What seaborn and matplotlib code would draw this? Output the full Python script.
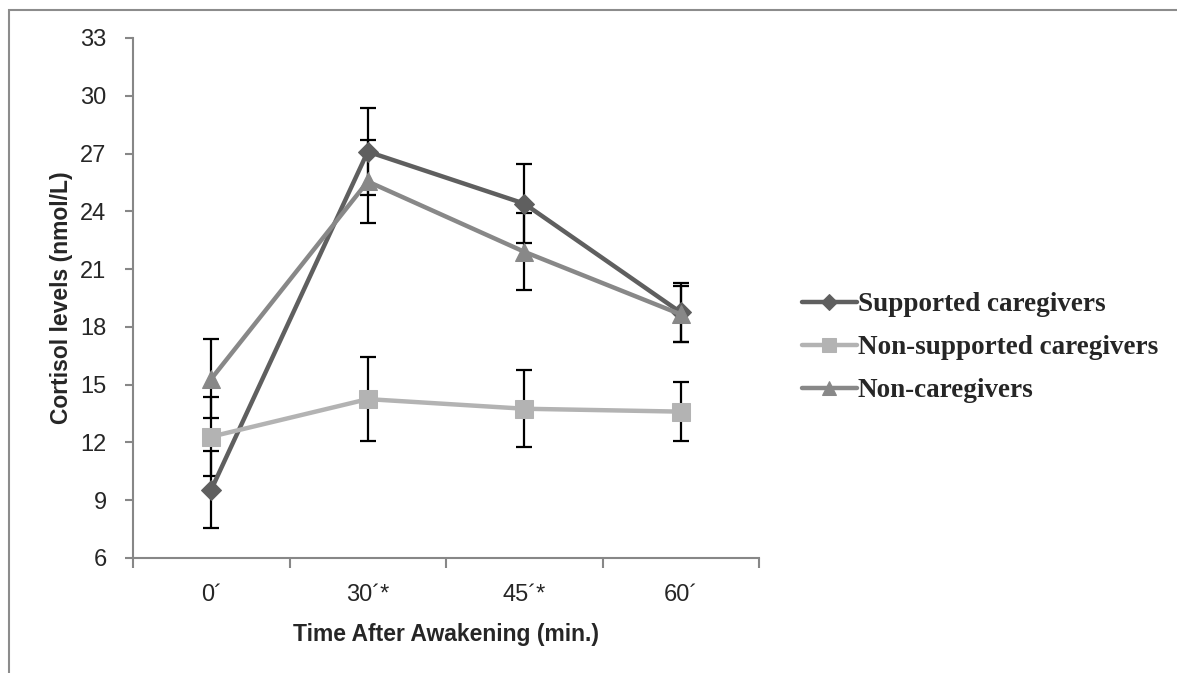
import matplotlib
matplotlib.use("Agg")
import matplotlib.pyplot as plt
import seaborn as sns
import pandas as pd
import numpy as np
from matplotlib.patches import Rectangle

categories = ["0´", "30´*", "45´*", "60´"]
series_names = ["Supported caregivers", "Non-supported caregivers", "Non-caregivers"]
supported = [9.55, 27.1, 24.4, 18.75]
supported_err = [2.0, 2.25, 2.05, 1.55]
non_supported = [12.3, 14.25, 13.75, 13.6]
non_supported_err = [2.05, 2.2, 2.0, 1.55]
non_caregivers = [15.3, 25.55, 21.9, 18.65]
non_caregivers_err = [2.05, 2.15, 2.0, 1.45]
y_ticks = [6, 9, 12, 15, 18, 21, 24, 27, 30, 33]

sns.set_theme(style="white")
plt.rcParams["font.family"] = ["Liberation Sans", "DejaVu Sans"]

rows = []
for name, vals in zip(series_names, [supported, non_supported, non_caregivers]):
    for i, v in enumerate(vals):
        rows.append({"x": i, "value": v, "group": name})
df = pd.DataFrame(rows)

colors = {"Supported caregivers": "#5f5f5f",
          "Non-supported caregivers": "#b3b3b3",
          "Non-caregivers": "#888888"}
markers = {"Supported caregivers": "D",
           "Non-supported caregivers": "s",
           "Non-caregivers": "^"}
msizes = {"Supported caregivers": 10, "Non-supported caregivers": 13, "Non-caregivers": 13}

fig = plt.figure(figsize=(11.77, 6.73), dpi=100)
ax = fig.add_axes([133/1177, 1 - 558/673, (759-133)/1177, (558-38)/673])

errs = {"Supported caregivers": supported_err,
        "Non-supported caregivers": non_supported_err,
        "Non-caregivers": non_caregivers_err}
for name, vals in zip(series_names, [supported, non_supported, non_caregivers]):
    ax.errorbar(range(len(vals)), vals, yerr=errs[name], fmt="none",
                ecolor="black", elinewidth=1.6, capsize=6, capthick=1.6, zorder=1)

for name in series_names:
    sub = df[df["group"] == name]
    sns.lineplot(data=sub, x="x", y="value", ax=ax, color=colors[name],
                 marker=markers[name], markersize=msizes[name],
                 markeredgecolor=colors[name], linewidth=3.2, label=name,
                 zorder=3, legend=False)

ax.set_xlim(-0.5, 3.5)
ax.set_ylim(6, 33)
ax.set_yticks(y_ticks)
ax.set_yticklabels([str(t) for t in y_ticks], fontsize=17)
ax.set_xticks(np.arange(-0.5, 3.6, 1.0))
ax.set_xticklabels([])
ax.set_xticks(range(len(categories)), minor=True)
ax.set_xticklabels(categories, minor=True, fontsize=17)
ax.tick_params(axis="x", which="major", direction="out", length=7, color="#878787", width=1.5, bottom=True)
ax.tick_params(axis="x", which="minor", length=0, pad=19)
ax.tick_params(axis="y", direction="out", length=6, color="#878787", width=1.5, left=True, pad=13)
for s in ["top", "right"]:
    ax.spines[s].set_visible(False)
for s in ["left", "bottom"]:
    ax.spines[s].set_color("#878787")
    ax.spines[s].set_linewidth(1.5)
ax.set_xlabel("Time After Awakening (min.)", fontsize=16.5, fontweight="bold", labelpad=12)
ax.set_ylabel("Cortisol levels (nmol/L)", fontsize=16.5, fontweight="bold", labelpad=5)

handles, labels = ax.get_legend_handles_labels()
fig.legend(handles, labels, loc="upper left", bbox_to_anchor=(778/1177, 1 - 268/673),
           frameon=False, prop={"family": "Liberation Serif", "weight": "bold", "size": 19.5},
           handlelength=2.0, handletextpad=0.05, labelspacing=0.66, markerscale=0.8)

fig.patches.append(Rectangle((9/1177, -0.1), 1.2, 1 - 10/673 + 0.1, transform=fig.transFigure,
                             fill=False, edgecolor="#8c8c8c", linewidth=1.5))

fig.savefig("out.png", dpi=100)
